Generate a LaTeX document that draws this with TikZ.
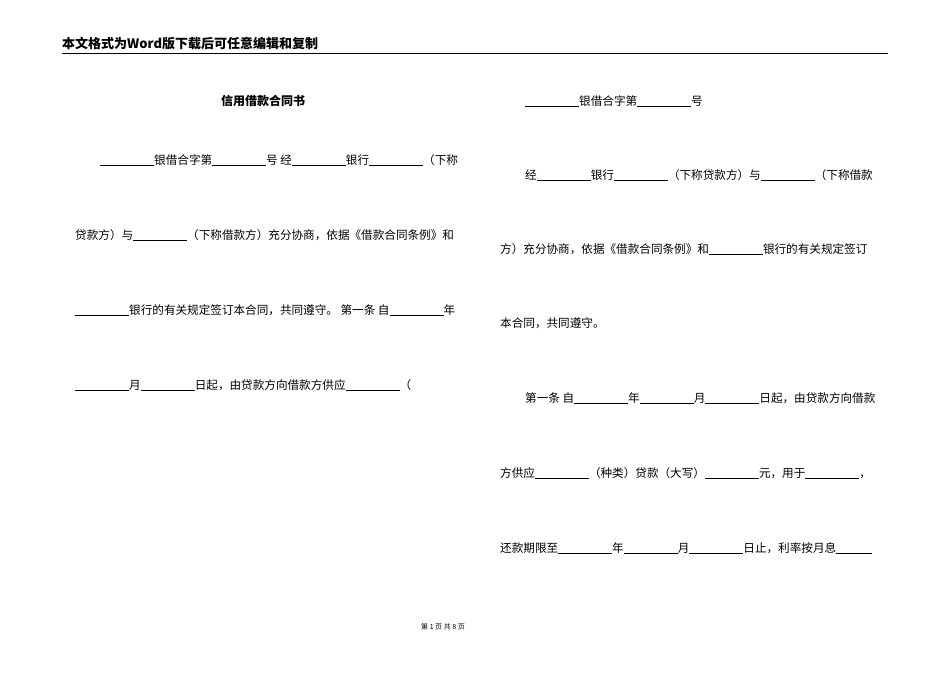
\documentclass[tikz,border=0pt]{standalone}
\usepackage{fontspec}
\setmainfont{Noto Sans CJK SC}
\newcommand{\bl}{\rule[-1.5pt]{54pt}{0.5pt}}
\begin{document}
\begin{tikzpicture}[x=1pt,y=-1pt,
  body/.style={anchor=west,inner sep=0pt,font=\fontsize{11.6}{13}\selectfont}]
\useasboundingbox (0,0) rectangle (950,672);
\node[anchor=west,inner sep=0pt,font=\fontsize{13}{15}\selectfont\bfseries] (hdr) at (62,44) {本文格式为Word版下载后可任意编辑和复制};
\draw[line width=0.8pt] (62,53) -- (888,53);
\node[inner sep=0pt,font=\fontsize{12}{13}\selectfont\bfseries] (title) at (263,101) {信用借款合同书};
\node[body] (l1) at (100,160) {\bl 银借合字第\bl 号 经\bl 银行\bl （下称};
\node[body] (l2) at (75,235) {贷款方）与\bl （下称借款方）充分协商，依据《借款合同条例》和};
\node[body] (l3) at (75,310) {\bl 银行的有关规定签订本合同，共同遵守。 第一条 自\bl 年};
\node[body] (l4) at (75,385) {\bl 月\bl 日起，由贷款方向借款方供应\bl （};
\node[body] (r1) at (525,101) {\bl 银借合字第\bl 号};
\node[body] (r2) at (525,175) {经\bl 银行\bl （下称贷款方）与\bl （下称借款};
\node[body] (r3) at (500,249) {方）充分协商，依据《借款合同条例》和\bl 银行的有关规定签订};
\node[body] (r4) at (500,323) {本合同，共同遵守。};
\node[body] (r5) at (525,398) {第一条 自\bl 年\bl 月\bl 日起，由贷款方向借款};
\node[body] (r6) at (500,473) {方供应\bl （种类）贷款（大写）\bl 元，用于\bl ，};
\node[body] (r7) at (500,548) {还款期限至\bl 年\bl 月\bl 日止，利率按月息\rule[-1.5pt]{36pt}{0.5pt}};
\node[inner sep=0pt,font=\fontsize{7}{8}\selectfont] (ft) at (443,627) {第 1 页 共 8 页};
\end{tikzpicture}
\end{document}
